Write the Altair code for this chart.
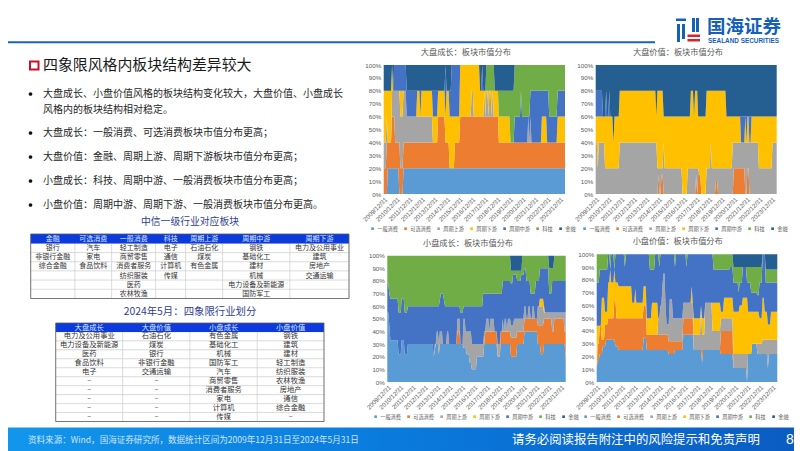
import altair as alt
import numpy as np
import pandas as pd

W, H = 786, 443
OX, OY = 8, 8   # page margin
CJK = "Noto Sans CJK SC"
LAT = "Liberation Sans"

SERIES = ["一般消费", "可选消费", "周期上游", "周期下游", "周期中游", "科技", "金融"]
COLORS = ["#5B9BD5", "#ED7D31", "#A5A5A5", "#FFC000", "#4472C4", "#70AD47", "#255E91"]
DATES = pd.date_range("2009-12-31", periods=174, freq="ME")

# Upper edge of each stacked band in percent, as (value, months) runs.
P1_LEVELS = [
    [(0,4),(20,11),(0,4),(20,155)],
    [(20,3),(40,5),(60,3),(40,5),(20,3),(40,33),(60,7),(40,4),(20,5),(40,5),(60,37),(40,64)],
    [(40,3),(60,1),(40,4),(80,8),(60,3),(80,3),(60,25),(40,5),(60,7),(40,4),(20,5),(40,5),(60,11),(80,2),(60,10),(80,1),(60,1),(80,2),(60,1),(80,2),(60,1),(80,1),(60,5),(40,28),(60,1),(40,1),(60,1),(40,33)],
    [(80,8),(100,1),(80,13),(60,10),(80,3),(60,1),(80,11),(60,5),(80,7),(60,1),(80,3),(60,10),(100,19),(80,18),(60,11),(40,30),(60,5),(40,10),(60,8)],
    [(80,10),(100,12),(80,37),(100,1),(80,5),(100,27),(80,2),(100,1),(80,15),(60,11),(40,4),(60,6),(80,1),(60,8),(80,18),(60,8),(80,8)],
    [(80,10),(100,12),(80,43),(100,27),(80,6),(100,8),(80,19),(100,49)],
]
P2_LEVELS = [
    [(0,174)],
    [(0,60),(15,1),(0,2),(15,2),(0,31),(15,1),(0,1),(15,3),(0,14),(10,2),(0,15),(20,11),(0,2),(20,2),(0,28)],
    [(40,2),(20,1),(40,6),(20,14),(40,36),(20,6),(40,1),(20,17),(0,5),(20,11),(0,7),(20,4),(40,1),(20,20),(40,25),(20,13),(40,5)],
    [(60,17),(40,1),(60,5),(80,35),(60,1),(80,6),(60,26),(80,3),(60,1),(80,3),(60,8),(80,19),(60,14),(40,4),(60,1),(40,1),(60,2),(40,2),(60,25)],
    [(80,7),(60,3),(80,1),(60,2),(80,1),(60,3),(40,1),(60,5),(80,35),(60,1),(80,6),(60,26),(80,3),(60,1),(80,3),(60,8),(80,19),(60,49)],
    [(0,174)],
]
P3_LEVELS = [
    [(55,2),(45,1),(33,8),(22,3),(33,3),(22,3),(30,25),(20,1),(25,1),(30,3),(22,1),(30,23),(27,3),(22,3),(15,2),(10,5),(20,7),(30,13),(20,3),(30,10),(20,6),(30,7),(40,13),(30,3),(22,3),(30,21),(18,1)],
    [(0,68),(40,3),(0,24),(40,12),(20,3),(40,10),(35,6),(40,7),(50,13),(45,6),(50,8),(40,2),(50,10),(40,2)],
    [(0,46),(30,2),(40,2),(30,1),(40,3),(30,4),(40,2),(30,8),(50,3),(30,3),(50,2),(40,6),(30,12),(40,2),(50,3),(40,1),(50,4),(40,3),(30,3),(40,2),(50,1),(40,1),(50,2),(40,1),(50,3),(45,3),(50,10),(60,2),(50,2),(60,2),(50,2),(60,2),(50,3),(60,6),(55,22)],
    [(0,147),(60,1),(66,4),(60,1),(0,21)],
    [(78,2),(70,1),(66,8),(55,3),(66,3),(55,3),(60,31),(65,1),(70,3),(65,1),(60,15),(55,3),(60,19),(70,19),(80,8),(78,2),(85,4),(80,4),(85,3),(90,2),(80,4),(70,5),(80,4),(90,9),(70,3),(80,14)],
    [(100,120),(88,11),(100,26),(90,5),(100,12)],
]
P4_LEVELS = [
    [(11,1),(17,2),(22,3),(28,3),(33,9),(28,3),(25,24),(35,3),(25,21),(22,6),(25,8),(37,10),(25,8),(15,1),(25,17),(22,12),(11,13),(0,1),(22,4),(30,5),(22,10),(11,1),(22,9)],
    [(11,1),(30,2),(44,2),(33,3),(45,3),(50,4),(50,2),(65,2),(50,2),(50,24),(60,3),(37,6),(37,15),(32,14),(50,10),(25,26),(40,12),(0,43)],
    [(0,59),(50,2),(60,2),(75,1),(85,2),(60,1),(45,3),(65,3),(50,10),(62,10),(37,4),(37,3),(60,1),(37,3),(62,7),(40,8),(50,12),(22,13),(22,5),(30,10),(33,15)],
    [(44,5),(66,3),(55,3),(78,2),(88,1),(78,3),(88,1),(78,3),(75,13),(62,3),(73,1),(62,7),(75,3),(50,5),(62,6),(0,24),(62,8),(75,1),(62,1),(50,11),(62,15),(55,3),(66,9),(55,6),(60,3),(66,5),(55,11),(50,3),(66,2),(55,3),(45,3),(55,7)],
    [(78,3),(88,8),(100,2),(88,1),(100,3),(88,1),(100,9),(90,1),(100,23),(88,5),(100,4),(90,1),(100,14),(90,1),(100,10),(90,1),(100,25),(88,16),(90,3),(78,5),(70,1),(78,3),(90,4),(78,4),(70,6),(68,2),(78,3),(100,3),(78,12)],
    [(100,131),(90,28),(100,3),(88,12)],
]

PANEL_TITLES = ["大盘成长：板块市值分布", "大盘价值：板块市值分布", "小盘成长：板块市值分布", "小盘价值：板块市值分布"]

SLIDE_TITLE = "四象限风格内板块结构差异较大"
BULLETS = [
    ["大盘成长、小盘价值风格的板块结构变化较大，大盘价值、小盘成长", "风格内的板块结构相对稳定。"],
    ["大盘成长：一般消费、可选消费板块市值分布更高；"],
    ["大盘价值：金融、周期上游、周期下游板块市值分布更高；"],
    ["小盘成长：科技、周期中游、一般消费板块市值分布更高；"],
    ["小盘价值：周期中游、周期下游、一般消费板块市值分布更高。"],
]
T1_TITLE = "中信一级行业对应板块"
T1_HEAD = ["金融", "可选消费", "一般消费", "科技", "周期上游", "周期中游", "周期下游"]
T1_COLS = [
    ["银行", "非银行金融", "综合金融"],
    ["汽车", "家电", "食品饮料"],
    ["轻工制造", "商贸零售", "消费者服务", "纺织服装", "医药", "农林牧渔"],
    ["电子", "通信", "计算机", "传媒"],
    ["石油石化", "煤炭", "有色金属"],
    ["钢铁", "基础化工", "建材", "机械", "电力设备及新能源", "国防军工"],
    ["电力及公用事业", "建筑", "房地产", "交通运输"],
]
T2_TITLE = "2024年5月：四象限行业划分"
T2_HEAD = ["大盘成长", "大盘价值", "小盘成长", "小盘价值"]
T2_COLS = [
    ["电力及公用事业", "电力设备及新能源", "医药", "食品饮料", "电子", "–", "–", "–", "–", "–"],
    ["石油石化", "煤炭", "银行", "非银行金融", "交通运输", "–", "–", "–", "–", "–"],
    ["有色金属", "基础化工", "机械", "国防军工", "汽车", "商贸零售", "消费者服务", "家电", "计算机", "传媒"],
    ["钢铁", "建筑", "建材", "轻工制造", "纺织服装", "农林牧渔", "房地产", "通信", "综合金融", "–"],
]
SOURCE = "资料来源：Wind，国海证券研究所，数据统计区间为2009年12月31日至2024年5月31日"
DISCLAIMER = "请务必阅读报告附注中的风险提示和免责声明"
PAGE_NO = "8"
BRAND_CN = "国海证券"
BRAND_EN = "SEALAND SECURITIES"


def px(v):
    return v - OX


def py(v):
    return v - OY


def expand(runs):
    out = []
    for value, n in runs:
        out += [value] * n
    out = (out + [out[-1]] * 174)[:174]
    return out


def panel_frame(levels):
    tops = np.array([expand(r) for r in levels] + [[100] * 174], dtype=float)
    tops = np.maximum.accumulate(tops, axis=0)
    vals = np.diff(np.vstack([np.zeros(174), tops]), axis=0)
    rows = []
    for i, name in enumerate(SERIES):
        rows.append(pd.DataFrame({"date": DATES, "series": name, "idx": i, "value": vals[i]}))
    return pd.concat(rows, ignore_index=True)


YEAR_TICKS = [alt.DateTime(year=y, month=12, date=31) for y in range(2009, 2024)]


def panel(levels, x0, x1, y0, y1, lx, ly, col_pad):
    axis_c = "#595959"
    return alt.Chart(panel_frame(levels)).mark_area(interpolate="linear", strokeWidth=0).encode(
        x=alt.X("date:T", title=None,
                scale=alt.Scale(range=[px(x0), px(x1)], nice=False),
                axis=alt.Axis(orient="bottom", offset=py(y1) - H, values=YEAR_TICKS, format="%Y/%m/%d",
                              labelAngle=-45, labelFontSize=6.2, labelFont=LAT, labelColor=axis_c,
                              ticks=False, domain=False, grid=False, labelPadding=2,
                              labelOverlap=False, labelFlush=False)),
        y=alt.Y("value:Q", stack="zero", title=None,
                scale=alt.Scale(domain=[0, 100], range=[py(y1), py(y0)], nice=False),
                axis=alt.Axis(orient="left", offset=-px(x0), values=list(range(0, 101, 10)),
                              labelExpr="datum.value + '%'", labelFontSize=6.2, labelFont=LAT,
                              labelColor=axis_c, ticks=False, domain=False, grid=False, labelPadding=3)),
        color=alt.Color("series:N", title=None,
                        scale=alt.Scale(domain=SERIES, range=COLORS),
                        legend=alt.Legend(orient="none", legendX=px(lx), legendY=py(ly), direction="horizontal",
                                          columns=7, symbolType="square", symbolSize=7, symbolStrokeWidth=0,
                                          labelFont=CJK, labelFontSize=5.2, labelColor=axis_c, labelOffset=2,
                                          gridAlign="each", columnPadding=col_pad, padding=0, title=None)),
        order=alt.Order("idx:Q"),
    )


def label(text, x, y, size, color="#222222", font=CJK, align="left", weight="normal"):
    return alt.Chart(pd.DataFrame({"t": [text]})).mark_text(
        font=font, fontSize=size, color=color, align=align, baseline="middle", fontWeight=weight
    ).encode(text="t:N", x=alt.value(px(x)), y=alt.value(py(y)))


def box(x0, y0, x1, y1, fill, stroke=None, sw=0):
    kw = {"fill": fill, "strokeWidth": sw}
    if stroke:
        kw["stroke"] = stroke
    return alt.Chart(pd.DataFrame({"a": [0]})).mark_rect(**kw).encode(
        x=alt.value(px(x0)), x2=alt.value(px(x1)), y=alt.value(py(y0)), y2=alt.value(py(y1)))


def table(head, cols, xedges, ytop, yhead, ybot, nrows, size):
    sx = alt.Scale(domain=list(range(len(xedges))), range=[px(v) for v in xedges], nice=False, zero=False)
    sy = alt.Scale(domain=[0, 1, nrows + 1], range=[py(ytop), py(yhead), py(ybot)], nice=False, zero=False)
    cells, texts = [], []
    for c in range(len(head)):
        for r in range(nrows):
            cells.append({"x0": c, "x1": c + 1, "y0": r + 1, "y1": r + 2})
        texts.append({"x": c + 0.5, "y": 0.5, "t": head[c], "h": 1})
        for r, t in enumerate(cols[c]):
            texts.append({"x": c + 0.5, "y": r + 1.5, "t": t, "h": 0})
    n = len(head)
    enc = dict(x=alt.X("x0:Q", scale=sx, axis=None), x2="x1:Q",
               y=alt.Y("y0:Q", scale=sy, axis=None), y2="y1:Q")
    grid = alt.Chart(pd.DataFrame(cells)).mark_rect(fill="#FFFFFF", stroke="#C8C8C8", strokeWidth=0.5).encode(**enc)
    hd = alt.Chart(pd.DataFrame([{"x0": 0, "x1": n, "y0": 0, "y1": 1}])).mark_rect(fill="#0B3BDD", strokeWidth=0).encode(**enc)
    border = alt.Chart(pd.DataFrame([{"x0": 0, "x1": n, "y0": 0, "y1": nrows + 1}])).mark_rect(
        fillOpacity=0, fill="#FFFFFF", stroke="#5A5A5A", strokeWidth=0.8).encode(**enc)
    tx = alt.Chart(pd.DataFrame(texts)).mark_text(font=CJK, fontSize=size, baseline="middle", align="center").encode(
        x=alt.X("x:Q", scale=sx, axis=None),
        y=alt.Y("y:Q", scale=sy, axis=None),
        text="t:N",
        color=alt.condition("datum.h == 1", alt.value("#DCE6FF"), alt.value("#333333")),
    )
    return [grid, hd, border, tx]


layers = []

# header rule and logo
layers.append(box(8, 41.2, 655, 43.2, "#1565C0"))
for r in [(676, 18.5, 686, 21), (677, 24, 680, 42), (682, 24, 685, 39), (692, 18, 695, 32), (696, 18, 699, 32)]:
    layers.append(box(*r, "#1560B8"))
for r in [(687.5, 34.5, 700, 37), (687.5, 39, 700, 41.5)]:
    layers.append(box(*r, "#D9232E"))
layers.append(label(BRAND_CN, 707, 27, 18.5, color="#1560B8", weight="bold"))
layers.append(label(BRAND_EN, 708, 40.5, 6.4, color="#1560B8", font=LAT, weight="bold"))

# slide title and bullets
layers.append(box(30, 61.5, 38.5, 69.5, "#FFFFFF", stroke="#C8102E", sw=2))
layers.append(label(SLIDE_TITLE, 43, 66, 14.9, color="#1A1A1A"))
bullet_y = [[94, 110], [133], [157], [181], [205]]
for lines, ys in zip(BULLETS, bullet_y):
    layers.append(alt.Chart(pd.DataFrame({"a": [0]})).mark_circle(color="#111111", size=14, opacity=1).encode(
        x=alt.value(px(30.5)), y=alt.value(py(ys[0]))))
    for line, y in zip(lines, ys):
        layers.append(label(line, 43, y, 10, color="#262626"))

# tables
layers.append(label(T1_TITLE, 190, 222, 9.8, color="#2F3E8F", align="center"))
layers += table(T1_HEAD, T1_COLS, [30.7, 75, 111.7, 155.7, 185.7, 222.7, 290, 349], 234, 243.5, 298.5, 6, 7)
layers.append(label(T2_TITLE, 190, 312, 10.4, color="#2F3E8F", align="center"))
layers += table(T2_HEAD, T2_COLS, [55.7, 122.7, 190, 257.3, 324], 323, 332, 421.5, 10, 7.3)

# panels
layers.append(panel(P1_LEVELS, 383.7, 565, 65, 194, 370, 226, 5))
layers.append(panel(P2_LEVELS, 595.7, 776.7, 65, 194, 582, 226, 5))
layers.append(panel(P3_LEVELS, 387.3, 565.7, 255.7, 382, 373, 414, 5))
layers.append(panel(P4_LEVELS, 596.7, 777.3, 254.3, 382, 583, 414, 5))
for t, x, y in zip(PANEL_TITLES, [465.8, 678, 468, 677.7], [53, 53, 244, 242]):
    layers.append(label(t, x, y, 8.2, color="#595959", align="center"))

# footer
layers.append(alt.Chart(pd.DataFrame({"a": [0]})).mark_rect(
    color=alt.Gradient(gradient="linear", x1=0, y1=0, x2=1, y2=0,
                       stops=[alt.GradientStop(offset=0, color="#1296EC"),
                              alt.GradientStop(offset=0.5, color="#0A7ADD"),
                              alt.GradientStop(offset=1, color="#0B5CC2")]),
    strokeWidth=0).encode(
    x=alt.value(0), x2=alt.value(W), y=alt.value(py(427.5)), y2=alt.value(H)))
layers.append(label(SOURCE, 28, 439.5, 8.55, color="#CFE4FA"))
layers.append(label(DISCLAIMER, 512, 440, 12.4, color="#FFFFFF"))
layers.append(label(PAGE_NO, 790, 440, 14, color="#FFFFFF", font=LAT, align="center"))

chart = alt.layer(*layers).resolve_scale(x="independent", y="independent", color="independent").properties(
    width=W, height=H, padding=0, autosize=alt.AutoSizeParams(type="none"), background="#FFFFFF"
).configure_view(strokeWidth=0)

chart.save("out.html", embed_options={"renderer": "svg", "actions": False})
